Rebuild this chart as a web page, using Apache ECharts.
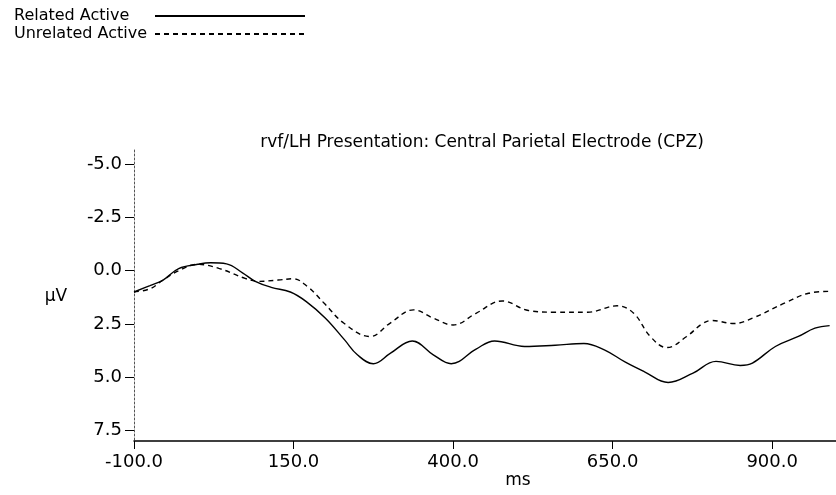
<!DOCTYPE html>
<html>
<head>
<meta charset="utf-8">
<script src="https://cdn.jsdelivr.net/npm/echarts@6/dist/echarts.min.js"></script>
<style>
html,body{margin:0;padding:0;background:#fff;}
#chart{width:836px;height:495px;}
</style>
</head>
<body>
<div id="chart"></div>
<script>
// ---- data (ms, µV) ----
const relatedMs   = [-100, -75, -55, -30, 0, 20, 45, 70, 90, 115, 145, 170, 200, 230, 250, 275, 302, 336, 369, 397, 436, 465, 512, 560, 605, 637, 670, 700, 737, 776, 812, 850, 869, 905, 941, 967, 990];
const relatedVals = [1.0, 0.7, 0.45, -0.1, -0.3, -0.37, -0.32, 0.1, 0.5, 0.78, 1.0, 1.45, 2.23, 3.25, 3.95, 4.37, 3.87, 3.3, 3.95, 4.37, 3.68, 3.3, 3.56, 3.5, 3.42, 3.72, 4.3, 4.75, 5.25, 4.81, 4.26, 4.45, 4.34, 3.56, 3.09, 2.7, 2.58];

const unrelatedMs   = [-100, -75, -55, -30, 0, 33, 74, 95, 126, 149, 172, 198, 229, 270, 301, 338, 369, 400, 436, 477, 518, 560, 611, 657, 683, 709, 735, 766, 790, 805, 840, 869, 921, 957, 990];
const unrelatedVals = [1.0, 0.85, 0.45, 0.0, -0.3, -0.11, 0.36, 0.5, 0.44, 0.38, 0.75, 1.53, 2.47, 3.09, 2.47, 1.84, 2.23, 2.55, 2.0, 1.42, 1.87, 1.95, 1.95, 1.65, 2.0, 3.09, 3.61, 3.09, 2.5, 2.34, 2.48, 2.23, 1.5, 1.06, 0.97];

const xTicks = [-100, 150, 400, 650, 900];
const yTicks = [-5, -2.5, 0, 2.5, 5, 7.5];

const seriesNames = ['Related Active', 'Unrelated Active'];
const titleText = 'rvf/LH Presentation: Central Parietal Electrode (CPZ)';
const yName = 'µV';
const xName = 'ms';

const FONT = 'DejaVu Sans';

function pairs(xs, ys) { return xs.map((x, i) => [x, ys[i]]); }

const chart = echarts.init(document.getElementById('chart'), null, {renderer: 'canvas'});
chart.setOption({
  animation: false,
  backgroundColor: '#ffffff',
  textStyle: {fontFamily: FONT, color: '#000'},
  legend: {
    orient: 'vertical',
    left: 14,
    top: 8,
    align: 'right',
    itemWidth: 150,
    itemHeight: 14,
    itemGap: 2,
    padding: 0,
    itemStyle: {opacity: 0},
    formatter: name => '{t|' + name + '}',
    textStyle: {
      fontFamily: FONT, fontSize: 16, color: '#000',
      rich: {t: {fontFamily: FONT, fontSize: 16, color: '#000', width: 136, align: 'left', lineHeight: 16}}
    },
    data: seriesNames
  },
  graphic: [
    {type: 'text', x: 482, y: 143, style: {text: titleText, font: '17px "DejaVu Sans"', fill: '#000', textAlign: 'center', textVerticalAlign: 'middle'}},
    {type: 'text', x: 56, y: 297, style: {text: yName, font: '17px "DejaVu Sans"', fill: '#000', textAlign: 'center', textVerticalAlign: 'middle'}},
    {type: 'text', x: 518, y: 481, style: {text: xName, font: '17px "DejaVu Sans"', fill: '#000', textAlign: 'center', textVerticalAlign: 'middle'}}
  ],
  grid: {left: 134, top: 150, width: 710.6, height: 291, containLabel: false},
  xAxis: {
    type: 'value',
    min: -100,
    max: 1000,
    interval: 250,
    axisLine: {show: true, onZero: false, lineStyle: {color: '#000', width: 1.5}},
    axisTick: {show: true, length: 8, customValues: xTicks, lineStyle: {color: '#000', width: 1}},
    axisLabel: {customValues: xTicks, margin: 12, fontFamily: FONT, fontSize: 18, color: '#000',
      formatter: v => v.toFixed(1)},
    splitLine: {show: false}
  },
  yAxis: {
    type: 'value',
    inverse: true,
    min: -5.67,
    max: 8.0,
    axisLine: {show: true, onZero: false, lineStyle: {color: '#555', width: 1, type: [2, 2]}},
    axisTick: {show: true, length: 9, customValues: yTicks, lineStyle: {color: '#000', width: 1}},
    axisLabel: {customValues: yTicks, margin: 12, fontFamily: FONT, fontSize: 18, color: '#000',
      formatter: v => v.toFixed(1)},
    splitLine: {show: false}
  },
  series: [
    {
      name: seriesNames[0], type: 'line', smooth: 0.4, symbol: 'none',
      lineStyle: {color: '#000', width: 1.4, type: 'solid'},
      itemStyle: {color: '#000', opacity: 0},
      data: pairs(relatedMs, relatedVals)
    },
    {
      name: seriesNames[1], type: 'line', smooth: 0.4, symbol: 'none',
      lineStyle: {color: '#000', width: 1.4, type: [5, 4]},
      itemStyle: {color: '#000', opacity: 0},
      data: pairs(unrelatedMs, unrelatedVals)
    }
  ]
});
</script>
</body>
</html>
